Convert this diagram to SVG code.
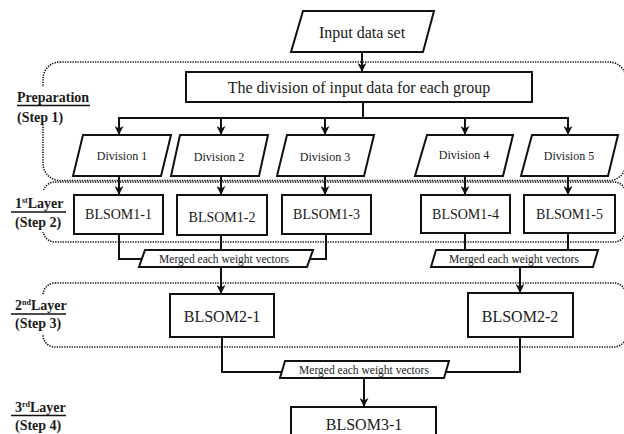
<svg xmlns="http://www.w3.org/2000/svg" width="624" height="434" viewBox="0 0 624 434">
<defs>
<style>
.box{fill:#fff;stroke:#111;stroke-width:2}
.dot{fill:none;stroke:#111;stroke-width:1.6;stroke-dasharray:1.3 1.2}
.ln{fill:none;stroke:#111;stroke-width:2}
.t{font-family:"Liberation Serif","Times New Roman",serif;fill:#1a1a1a;text-anchor:middle}
.lb{font-family:"Liberation Serif","Times New Roman",serif;font-weight:bold;font-size:14px;fill:#1a1a1a}
.bg{fill:#fff}
</style>
<marker id="ah" viewBox="0 0 10 10" refX="9" refY="5" markerWidth="4.5" markerHeight="4.5" orient="auto" markerUnits="strokeWidth">
<path d="M0,0 L10,5 L0,10 L3,5 z" fill="#111"/>
</marker>
</defs>
<rect width="624" height="434" fill="#fff"/>

<g id="groups">
<rect class="dot" x="43" y="62" width="583" height="118.5" rx="17"/>
<rect class="dot" x="43" y="182" width="583" height="60" rx="12"/>
<rect class="dot" x="43" y="283" width="583" height="64" rx="12"/>
</g>

<g id="labels">
<rect class="bg" x="8" y="87" width="88" height="38"/>
<text class="lb" x="17" y="102">Preparation</text>
<line x1="17" y1="105.5" x2="90" y2="105.5" stroke="#111" stroke-width="1.3"/>
<text class="lb" x="17" y="122">(Step 1)</text>

<rect class="bg" x="8" y="190" width="64" height="42"/>
<text class="lb" x="15" y="208">1<tspan font-size="8" dy="-5">st</tspan><tspan dy="5">Layer</tspan></text>
<line x1="11" y1="212" x2="66" y2="212" stroke="#111" stroke-width="1.3"/>
<text class="lb" x="15" y="227">(Step 2)</text>

<rect class="bg" x="8" y="295" width="64" height="39"/>
<text class="lb" x="15" y="310">2<tspan font-size="8" dy="-5">nd</tspan><tspan dy="5">Layer</tspan></text>
<line x1="11" y1="314" x2="66" y2="314" stroke="#111" stroke-width="1.3"/>
<text class="lb" x="15" y="328">(Step 3)</text>

<text class="lb" x="15" y="412">3<tspan font-size="8" dy="-5">rd</tspan><tspan dy="5">Layer</tspan></text>
<line x1="11" y1="415.5" x2="66" y2="415.5" stroke="#111" stroke-width="1.3"/>
<text class="lb" x="15" y="430">(Step 4)</text>
</g>

<g id="connectors">
<line class="ln" x1="362" y1="52" x2="362" y2="71" marker-end="url(#ah)"/>
<polyline class="ln" points="363,102 363,118"/>
<line class="ln" x1="118" y1="118" x2="569" y2="118"/>
<line class="ln" x1="119" y1="118" x2="119" y2="134" marker-end="url(#ah)"/>
<line class="ln" x1="221" y1="118" x2="221" y2="134" marker-end="url(#ah)"/>
<line class="ln" x1="325" y1="118" x2="325" y2="134" marker-end="url(#ah)"/>
<line class="ln" x1="465" y1="118" x2="465" y2="134" marker-end="url(#ah)"/>
<line class="ln" x1="568" y1="118" x2="568" y2="134" marker-end="url(#ah)"/>
<line class="ln" x1="119" y1="176" x2="119" y2="194" marker-end="url(#ah)"/>
<line class="ln" x1="221" y1="176" x2="221" y2="194" marker-end="url(#ah)"/>
<line class="ln" x1="325" y1="176" x2="325" y2="194" marker-end="url(#ah)"/>
<line class="ln" x1="465" y1="176" x2="465" y2="194" marker-end="url(#ah)"/>
<line class="ln" x1="568" y1="176" x2="568" y2="194" marker-end="url(#ah)"/>
<polyline class="ln" points="119,234 119,259 143,259"/>
<polyline class="ln" points="221,235 221,250"/>
<polyline class="ln" points="326,234 326,259 308,259"/>
<polyline class="ln" points="465,233 465,250"/>
<polyline class="ln" points="568,233 568,250"/>
<line class="ln" x1="221" y1="267" x2="221" y2="293" marker-end="url(#ah)"/>
<line class="ln" x1="520" y1="267" x2="520" y2="292" marker-end="url(#ah)"/>
<polyline class="ln" points="222,337 222,372 282,372"/>
<polyline class="ln" points="520,337 520,372 446,372"/>
<line class="ln" x1="364" y1="378" x2="364" y2="406" marker-end="url(#ah)"/>
</g>

<g id="input">
<polygon class="box" points="303,11 434,11 423,52 291,52"/>
<text class="t" x="362" y="38" font-size="16">Input data set</text>
</g>
<g id="division">
<rect class="box" x="186" y="72" width="346" height="30"/>
<text class="t" x="359" y="93" font-size="16">The division of input data for each group</text>
</g>

<g id="div1">
<polygon class="box" points="83,135 171,135 161,176 73,176"/>
<text class="t" x="122" y="160" font-size="12">Division 1</text>
</g>
<g id="div2">
<polygon class="box" points="180,135 268,135 259,176 171,176"/>
<text class="t" x="219" y="161" font-size="12">Division 2</text>
</g>
<g id="div3">
<polygon class="box" points="287,135 374,135 364,176 277,176"/>
<text class="t" x="325" y="161" font-size="12">Division 3</text>
</g>
<g id="div4">
<polygon class="box" points="427,135 513,135 503,176 415,176"/>
<text class="t" x="464" y="159" font-size="12">Division 4</text>
</g>
<g id="div5">
<polygon class="box" points="532,135 618,135 608,176 521,176"/>
<text class="t" x="569" y="160" font-size="12">Division 5</text>
</g>

<g id="blsom1-1">
<rect class="box" x="74" y="195" width="89" height="39"/>
<text class="t" x="118.5" y="219" font-size="14">BLSOM1-1</text>
</g>
<g id="blsom1-2">
<rect class="box" x="177" y="195" width="90" height="40"/>
<text class="t" x="222" y="222" font-size="14">BLSOM1-2</text>
</g>
<g id="blsom1-3">
<rect class="box" x="282" y="195" width="89" height="39"/>
<text class="t" x="326.5" y="219" font-size="14">BLSOM1-3</text>
</g>
<g id="blsom1-4">
<rect class="box" x="421" y="195" width="89" height="38"/>
<text class="t" x="465.5" y="219" font-size="14">BLSOM1-4</text>
</g>
<g id="blsom1-5">
<rect class="box" x="524" y="195" width="91" height="38"/>
<text class="t" x="569.5" y="219" font-size="14">BLSOM1-5</text>
</g>

<g id="merged1">
<polygon class="box" points="145,250 313,250 307,267 139,267"/>
<text class="t" x="224" y="262.5" font-size="11.5">Merged each weight vectors</text>
</g>
<g id="merged2">
<polygon class="box" points="436,250 598,250 593,267 431,267"/>
<text class="t" x="514" y="262.5" font-size="11.5">Merged each weight vectors</text>
</g>

<g id="blsom2-1">
<rect class="box" x="170" y="294" width="104" height="43"/>
<text class="t" x="222" y="322" font-size="16">BLSOM2-1</text>
</g>
<g id="blsom2-2">
<rect class="box" x="468" y="293" width="105" height="44"/>
<text class="t" x="520" y="322" font-size="16">BLSOM2-2</text>
</g>

<g id="merged3">
<polygon class="box" points="285,361 449,361 444,378 280,378"/>
<text class="t" x="364" y="373.5" font-size="11.5">Merged each weight vectors</text>
</g>

<g id="blsom3-1">
<rect class="box" x="291" y="407" width="145" height="40"/>
<text class="t" x="364" y="430" font-size="16">BLSOM3-1</text>
</g>
</svg>
